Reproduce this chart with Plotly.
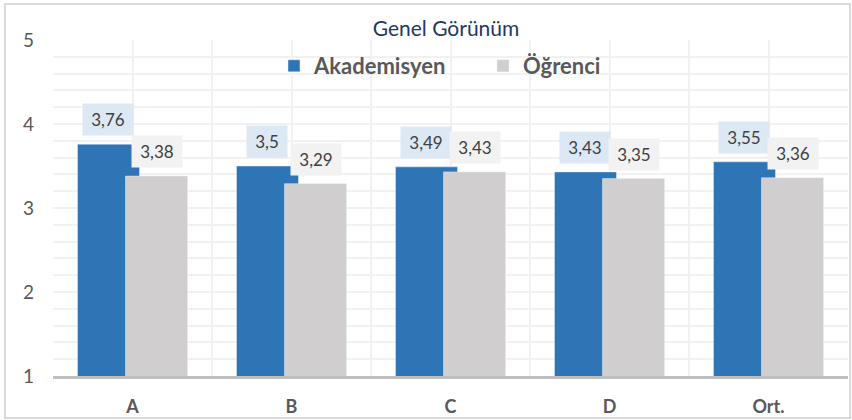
import plotly.graph_objects as go

categories = ["A", "B", "C", "D", "Ort."]
akademisyen = [3.76, 3.50, 3.49, 3.43, 3.55]
ogrenci = [3.38, 3.29, 3.43, 3.35, 3.36]
series_names = ["Akademisyen", "Öğrenci"]
y_ticks = [1, 2, 3, 4, 5]

BLUE = "#2e75b6"
GRAY = "#d0cece"
FONT = "Lato"
GRID = "#f1f1f1"
xpos = list(range(len(categories)))
BW = 0.39

fig = go.Figure()
fig.add_trace(go.Bar(x=xpos, y=akademisyen, name=series_names[0], marker_color=BLUE,
                     width=BW, offset=-0.346, base=0))
fig.add_trace(go.Bar(x=xpos, y=ogrenci, name=series_names[1], marker_color=GRAY,
                     width=BW, offset=-0.044, base=0))

def fmt(v):
    s = f"{v:.2f}".rstrip("0").rstrip(".")
    return s.replace(".", ",")

ann = []
for vals, off, bg in [(akademisyen, -0.346, "#dde8f5"), (ogrenci, -0.044, "#f2f2f2")]:
    for i, v in enumerate(vals):
        s = fmt(v)
        ndig = sum(c.isdigit() for c in s)
        ann.append(dict(x=i + off + BW / 2, y=v, xref="x", yref="y", text=s,
                        showarrow=False, yanchor="bottom", yshift=8, bgcolor=bg, borderpad=0,
                        width=round(9.6 * ndig + 3.8 + 17), height=31,
                        font=dict(family=FONT, size=17, color="#404040")))

fig.update_layout(
    width=852, height=420,
    margin=dict(l=53, r=4, t=40, b=44),
    paper_bgcolor="white", plot_bgcolor="white",
    barmode="overlay",
    showlegend=True,
    title=dict(text="Genel Görünüm", x=446 / 852, xref="container", xanchor="center",
               y=1 - 29 / 420, yref="container", yanchor="middle",
               font=dict(family=FONT, size=21, color="#1f3864")),
    legend=dict(orientation="h", x=(290 - 16 - 53) / 795, xanchor="left", y=(376 - 66) / 336, yanchor="middle",
                font=dict(family=FONT, size=22, color="#595959", weight="bold"),
                bgcolor="rgba(0,0,0,0)", entrywidth=164, entrywidthmode="pixels"),
    annotations=ann,
    xaxis=dict(range=[-0.5, 4.5], tickvals=xpos, ticktext=categories, showgrid=True,
               gridcolor=GRID, gridwidth=2, zeroline=False,
               showline=True, linecolor="#bfbfbf", linewidth=3,
               ticks="", ticklabelstandoff=12,
               tickfont=dict(family=FONT, size=18, color="#595959", weight="bold"),
               minor=dict(tickvals=[i - 0.5 for i in range(len(categories) + 1)], showgrid=True,
                          gridcolor=GRID, gridwidth=2, ticks="")),
    yaxis=dict(range=[1, 5], tickvals=y_ticks, showgrid=True, gridcolor=GRID, gridwidth=2,
               zeroline=False, showline=False, ticks="", ticklabelstandoff=18,
               tickfont=dict(family=FONT, size=19, color="#595959"),
               minor=dict(dtick=0.2, tick0=1, showgrid=True, gridcolor=GRID, gridwidth=2, ticks="")),
    shapes=[dict(type="rect", xref="paper", yref="paper",
                 x0=(5 - 53) / 795, x1=(850 - 53) / 795, y0=(376 - 418) / 336, y1=(376 - 4) / 336,
                 line=dict(color="#d9d9d9", width=2), layer="below")],
)

fig.write_html("out.html", config={"displayModeBar": False},
               post_script="document.body.style.margin='0px';")
